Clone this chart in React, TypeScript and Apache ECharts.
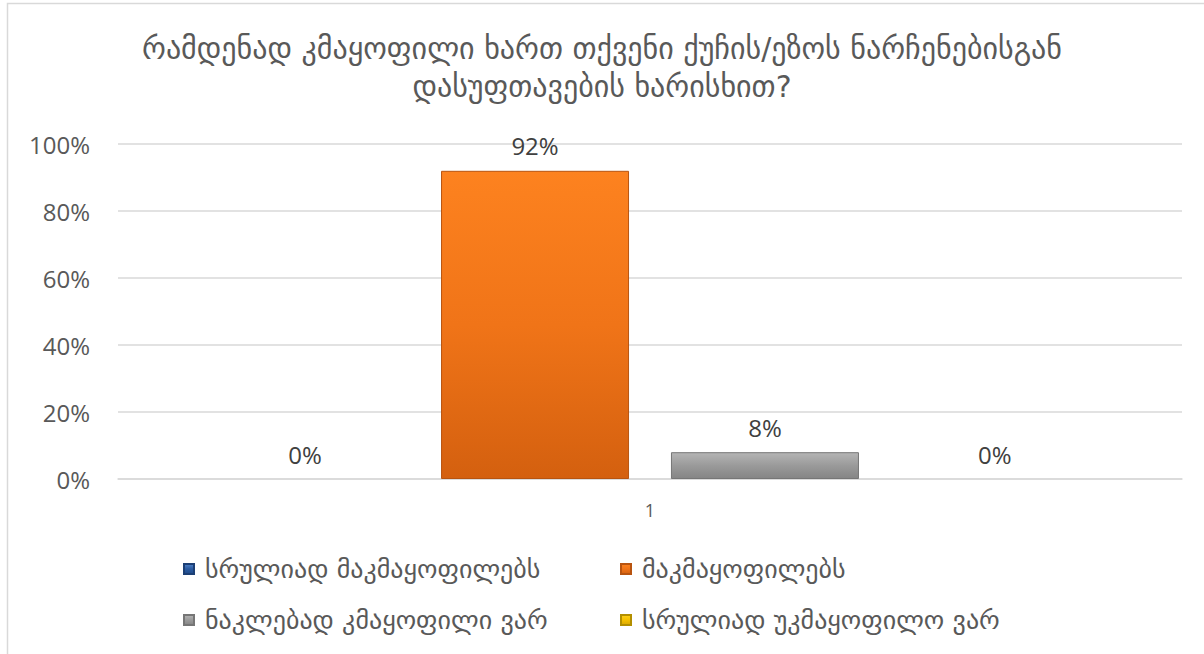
import React, { useEffect, useRef } from "react";
import * as echarts from "echarts";

const titleText = "რამდენად კმაყოფილი ხართ თქვენი ქუჩის/ეზოს ნარჩენებისგან\nდასუფთავების ხარისხით?";
const categories = ["1"];
const seriesNames = [
  "სრულიად მაკმაყოფილებს",
  "მაკმაყოფილებს",
  "ნაკლებად კმაყოფილი ვარ",
  "სრულიად უკმაყოფილო ვარ",
];
const seriesValues = [[0], [92], [8], [0]];
const yTicks = { min: 0, max: 100, interval: 20 };

const colorStops = [
  ["#4f81c7", "#2a5aa0", "#1f4a8a"],
  ["#fd821f", "#f07418", "#d4600f"],
  ["#b5b5b5", "#9a9a9a", "#858585"],
  ["#ffd21a", "#f5c000", "#d9a800"],
];
const borderColors = ["#1c3f75", "#b85410", "#767676", "#b38f00"];

const GEO = '"DejaVu Sans", "Noto Sans", sans-serif';
const NUM = '"Open Sans", "Noto Sans", sans-serif';

export default function App() {
  const ref = useRef<HTMLDivElement>(null);
  useEffect(() => {
    if (!ref.current) return;
    const chart = echarts.init(ref.current, null, { renderer: "svg" });
    const series = seriesNames.map((name, i) => ({
      name,
      type: "bar",
      data: seriesValues[i].map((v) => ({
        value: v,
        itemStyle: v === 0 ? { borderWidth: 0, borderColor: "transparent" } : {},
      })),
      barWidth: 188,
      barGap: "22.3%",
      itemStyle: {
        color: new echarts.graphic.LinearGradient(0, 0, 0, 1, [
          { offset: 0, color: colorStops[i][0] },
          { offset: 0.5, color: colorStops[i][1] },
          { offset: 1, color: colorStops[i][2] },
        ]),
        borderColor: borderColors[i],
        borderWidth: 1,
      },
      label: {
        show: true,
        position: "top",
        distance: 13,
        formatter: "{c}%",
        fontFamily: NUM,
        fontSize: 24,
        color: "#404040",
      },
    }));
    const legendText = {
      fontFamily: GEO,
      fontSize: 26,
      color: "#595959",
      width: 380,
      lineHeight: 30,
      padding: [0, 0, 0, 6],
    };
    const legendCommon = {
      left: 183,
      padding: 0,
      itemWidth: 10,
      itemHeight: 10,
      itemGap: 35,
      icon: "rect",
      textStyle: legendText,
    };
    chart.setOption({
      animation: false,
      backgroundColor: "#ffffff",
      title: {
        text: titleText,
        left: "center",
        top: 29,
        padding: 0,
        textStyle: {
          fontFamily: GEO,
          fontSize: 30,
          fontWeight: "normal",
          color: "#595959",
          lineHeight: 38,
        },
      },
      legend: [
        { ...legendCommon, data: [seriesNames[0], seriesNames[1]], top: 554 },
        { ...legendCommon, data: [seriesNames[2], seriesNames[3]], top: 605 },
      ],
      grid: { left: 118, right: 22, top: 144, bottom: 175, containLabel: false },
      xAxis: {
        type: "category",
        data: categories,
        axisLine: { lineStyle: { color: "#d9d9d9", width: 1.5 } },
        axisTick: { show: false },
        axisLabel: { fontFamily: NUM, fontSize: 18, color: "#595959", margin: 22 },
      },
      yAxis: {
        type: "value",
        min: yTicks.min,
        max: yTicks.max,
        interval: yTicks.interval,
        axisLine: { show: false },
        axisTick: { show: false },
        splitLine: { lineStyle: { color: "#d9d9d9", width: 1.5 } },
        axisLabel: {
          formatter: "{value}%",
          fontFamily: NUM,
          fontSize: 24,
          color: "#595959",
          margin: 28,
        },
      },
      graphic: [
        {
          type: "rect",
          shape: { x: 7.5, y: 3.5, width: 1400, height: 900 },
          style: { fill: "none", stroke: "#d9d9d9", lineWidth: 1.5 },
          silent: true,
          z: -1,
        },
      ],
      series,
    });
    return () => chart.dispose();
  }, []);
  return (
    <div
      ref={ref}
      style={{ position: "absolute", left: 0, top: 0, width: 1204, height: 654 }}
    />
  );
}
